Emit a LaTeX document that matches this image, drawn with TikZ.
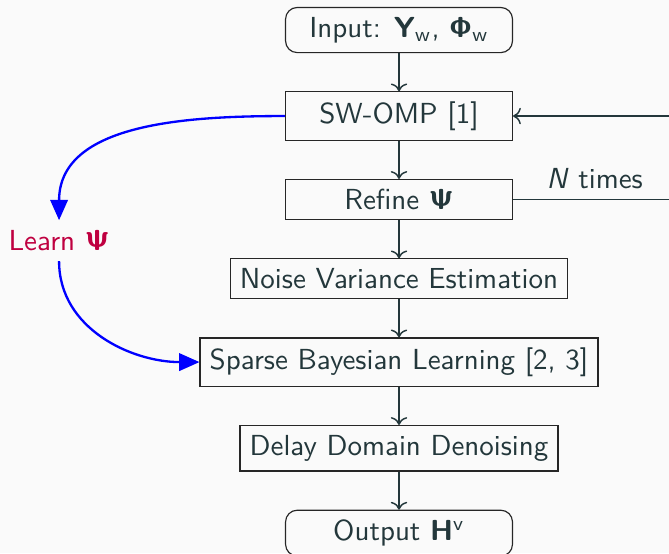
\documentclass[tikz,border=0pt]{standalone}
\usepackage{amsmath}
\usetikzlibrary{positioning, arrows.meta}
\renewcommand{\familydefault}{\sfdefault}
\DeclareMathAlphabet{\mathbsf}{OT1}{cmss}{bx}{n}
\definecolor{darkteal}{HTML}{23373B}
\definecolor{paper}{HTML}{FAFAFA}
\tikzset{
    block/.style={
        draw=black!85,
        rectangle,
        text=darkteal,
        minimum width=2.75cm
    },
    io/.style={
        block,
        rounded corners=4pt
    },
    flow/.style={->, draw=darkteal, line width=0.5pt},
    learn/.style={-{Triangle[length=7pt,width=6pt]}, blue, thick}
}

\begin{document}
\begin{tikzpicture}[node distance = 0.462cm]
    % Background and page size
    \path [use as bounding box, fill=paper] (-4.836,0.364) rectangle (3.272,-6.339);

    % Main chain
    \node (input) [io] {Input: $\mathbsf{Y}_{\mathsf{w}}$, $\mathbsf{\Phi}_{\mathsf{w}}$};
    \node (swomp) [block, below = of input] {SW-OMP [1]};
    \node (refine) [block, below = of swomp] {Refine $\mathbsf{\Psi}$};
    \node (noise) [block, below = of refine] {Noise Variance Estimation};
    \node (sbl) [block, below = of noise] {Sparse Bayesian Learning [2, 3]};
    \node (denoise) [block, below = of sbl] {Delay Domain Denoising};
    \node (output) [io, below = of denoise] {Output $\mathbsf{H}^{\mathsf{v}}$};

    % Side label
    \node (learnpsi) [text=purple] at (-4.12,-2.553) {Learn $\mathbsf{\Psi}$};

    \path [flow]
        (input) edge (swomp)
        (swomp) edge (refine)
        (refine) edge (noise)
        (noise) edge (sbl)
        (sbl) edge (denoise)
        (denoise) edge (output)
    ;

    % Iteration loop
    \draw [flow] (refine.east)
        -- node [above, pos=0.45, text=darkteal] {\textit{N} times} ++(2.2cm,0)
        |- (swomp.east);

    % Learning path
    \draw [learn] (swomp.west) to [out=180, in=90] (learnpsi.north);
    \draw [learn] (learnpsi.south) to [out=270, in=180] (sbl.west);
\end{tikzpicture}
\end{document}
